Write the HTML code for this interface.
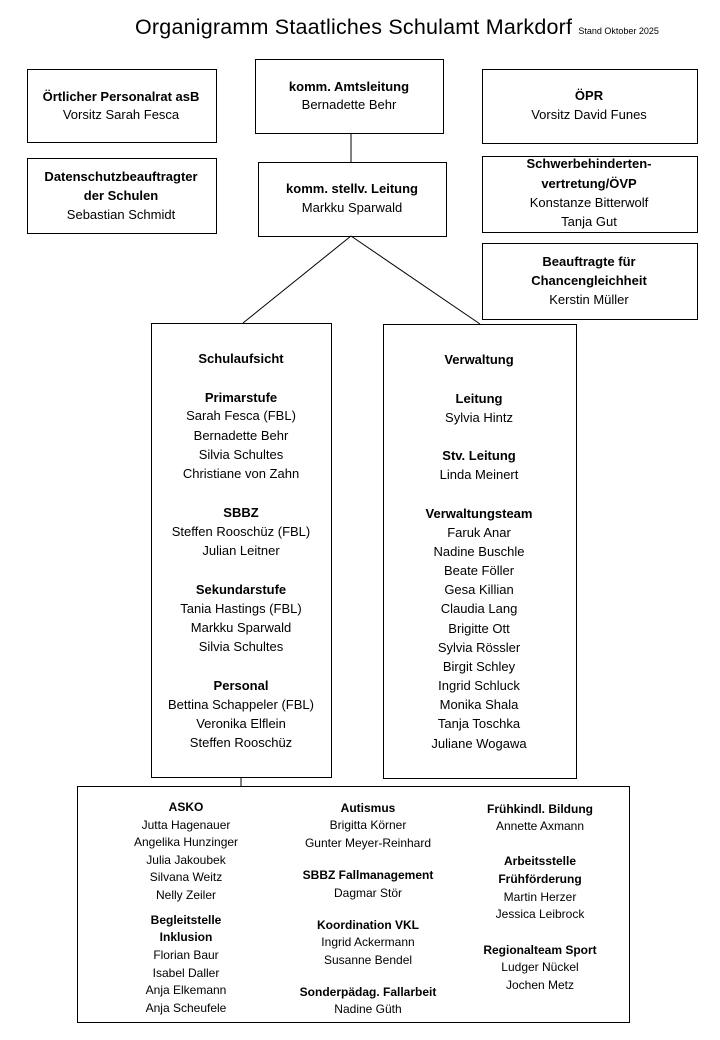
<!DOCTYPE html>
<html><head><meta charset="utf-8"><style>
body{margin:0;width:720px;height:1040px;background:#fff;position:relative;overflow:hidden;font-family:"Liberation Sans",sans-serif;color:#000}
.b{position:absolute;border:1px solid #000;box-sizing:border-box}
.t{position:absolute;white-space:nowrap;transform:translateX(-50%);font-size:13px;line-height:18px;height:18px}
.s{font-size:12px}
.bd{font-weight:bold}
svg{position:absolute;left:0;top:0}
</style></head><body>
<svg width="720" height="1040"><g stroke="#000" stroke-width="1">
<line x1="351" y1="133" x2="351" y2="162"/>
<line x1="351" y1="236" x2="243" y2="323"/>
<line x1="351" y1="236" x2="480" y2="324"/>
<line x1="241" y1="777" x2="241" y2="786"/>
</g></svg>
<div style="position:absolute;left:135px;top:15px;font-size:21.5px;white-space:nowrap;letter-spacing:0.2px">Organigramm Staatliches Schulamt Markdorf <span style="font-size:9px;letter-spacing:0">Stand Oktober 2025</span></div>

<div class="b" style="left:27px;top:69px;width:190px;height:74px"></div>
<div class="b" style="left:255px;top:59px;width:189px;height:75px"></div>
<div class="b" style="left:482px;top:69px;width:216px;height:75px"></div>
<div class="b" style="left:27px;top:158px;width:190px;height:76px"></div>
<div class="b" style="left:258px;top:162px;width:189px;height:75px"></div>
<div class="b" style="left:482px;top:156px;width:216px;height:77px"></div>
<div class="b" style="left:482px;top:243px;width:216px;height:77px"></div>
<div class="b" style="left:151px;top:323px;width:181px;height:455px"></div>
<div class="b" style="left:383px;top:324px;width:194px;height:455px"></div>
<div class="b" style="left:77px;top:786px;width:553px;height:237px"></div>

<div class="t bd" style="left:121px;top:88px">Örtlicher Personalrat asB</div>
<div class="t" style="left:121px;top:106px">Vorsitz Sarah Fesca</div>
<div class="t bd" style="left:349px;top:78px">komm. Amtsleitung</div>
<div class="t" style="left:349px;top:96px">Bernadette Behr</div>
<div class="t bd" style="left:589px;top:87px">ÖPR</div>
<div class="t" style="left:589px;top:106px">Vorsitz David Funes</div>
<div class="t bd" style="left:121px;top:168px">Datenschutzbeauftragter</div>
<div class="t bd" style="left:121px;top:187px">der Schulen</div>
<div class="t" style="left:121px;top:206px">Sebastian Schmidt</div>
<div class="t bd" style="left:352px;top:180px">komm. stellv. Leitung</div>
<div class="t" style="left:352px;top:199px">Markku Sparwald</div>
<div class="t bd" style="left:589px;top:155px">Schwerbehinderten-</div>
<div class="t bd" style="left:589px;top:175px">vertretung/ÖVP</div>
<div class="t" style="left:589px;top:194px">Konstanze Bitterwolf</div>
<div class="t" style="left:589px;top:213px">Tanja Gut</div>
<div class="t bd" style="left:589px;top:253px">Beauftragte für</div>
<div class="t bd" style="left:589px;top:272px">Chancengleichheit</div>
<div class="t" style="left:589px;top:291px">Kerstin Müller</div>

<div class="t bd" style="left:241px;top:350px">Schulaufsicht</div>
<div class="t bd" style="left:241px;top:389px">Primarstufe</div>
<div class="t" style="left:241px;top:407px">Sarah Fesca (FBL)</div>
<div class="t" style="left:241px;top:427px">Bernadette Behr</div>
<div class="t" style="left:241px;top:446px">Silvia Schultes</div>
<div class="t" style="left:241px;top:465px">Christiane von Zahn</div>
<div class="t bd" style="left:241px;top:504px">SBBZ</div>
<div class="t" style="left:241px;top:523px">Steffen Rooschüz (FBL)</div>
<div class="t" style="left:241px;top:542px">Julian Leitner</div>
<div class="t bd" style="left:241px;top:581px">Sekundarstufe</div>
<div class="t" style="left:241px;top:600px">Tania Hastings (FBL)</div>
<div class="t" style="left:241px;top:619px">Markku Sparwald</div>
<div class="t" style="left:241px;top:638px">Silvia Schultes</div>
<div class="t bd" style="left:241px;top:677px">Personal</div>
<div class="t" style="left:241px;top:696px">Bettina Schappeler (FBL)</div>
<div class="t" style="left:241px;top:715px">Veronika Elflein</div>
<div class="t" style="left:241px;top:734px">Steffen Rooschüz</div>

<div class="t bd" style="left:479px;top:351px">Verwaltung</div>
<div class="t bd" style="left:479px;top:390px">Leitung</div>
<div class="t" style="left:479px;top:409px">Sylvia Hintz</div>
<div class="t bd" style="left:479px;top:447px">Stv. Leitung</div>
<div class="t" style="left:479px;top:466px">Linda Meinert</div>
<div class="t bd" style="left:479px;top:505px">Verwaltungsteam</div>
<div class="t" style="left:479px;top:524px">Faruk Anar</div>
<div class="t" style="left:479px;top:543px">Nadine Buschle</div>
<div class="t" style="left:479px;top:562px">Beate Föller</div>
<div class="t" style="left:479px;top:581px">Gesa Killian</div>
<div class="t" style="left:479px;top:600px">Claudia Lang</div>
<div class="t" style="left:479px;top:620px">Brigitte Ott</div>
<div class="t" style="left:479px;top:639px">Sylvia Rössler</div>
<div class="t" style="left:479px;top:658px">Birgit Schley</div>
<div class="t" style="left:479px;top:677px">Ingrid Schluck</div>
<div class="t" style="left:479px;top:696px">Monika Shala</div>
<div class="t" style="left:479px;top:715px">Tanja Toschka</div>
<div class="t" style="left:479px;top:735px">Juliane Wogawa</div>

<div class="t s bd" style="left:186px;top:798px">ASKO</div>
<div class="t s" style="left:186px;top:816px">Jutta Hagenauer</div>
<div class="t s" style="left:186px;top:833px">Angelika Hunzinger</div>
<div class="t s" style="left:186px;top:851px">Julia Jakoubek</div>
<div class="t s" style="left:186px;top:868px">Silvana Weitz</div>
<div class="t s" style="left:186px;top:886px">Nelly Zeiler</div>
<div class="t s bd" style="left:186px;top:911px">Begleitstelle</div>
<div class="t s bd" style="left:186px;top:928px">Inklusion</div>
<div class="t s" style="left:186px;top:946px">Florian Baur</div>
<div class="t s" style="left:186px;top:964px">Isabel Daller</div>
<div class="t s" style="left:186px;top:981px">Anja Elkemann</div>
<div class="t s" style="left:186px;top:999px">Anja Scheufele</div>

<div class="t s bd" style="left:368px;top:799px">Autismus</div>
<div class="t s" style="left:368px;top:816px">Brigitta Körner</div>
<div class="t s" style="left:368px;top:834px">Gunter Meyer-Reinhard</div>
<div class="t s bd" style="left:368px;top:866px">SBBZ Fallmanagement</div>
<div class="t s" style="left:368px;top:884px">Dagmar Stör</div>
<div class="t s bd" style="left:368px;top:916px">Koordination VKL</div>
<div class="t s" style="left:368px;top:933px">Ingrid Ackermann</div>
<div class="t s" style="left:368px;top:951px">Susanne Bendel</div>
<div class="t s bd" style="left:368px;top:983px">Sonderpädag. Fallarbeit</div>
<div class="t s" style="left:368px;top:1000px">Nadine Güth</div>

<div class="t s bd" style="left:540px;top:800px">Frühkindl. Bildung</div>
<div class="t s" style="left:540px;top:817px">Annette Axmann</div>
<div class="t s bd" style="left:540px;top:852px">Arbeitsstelle</div>
<div class="t s bd" style="left:540px;top:870px">Frühförderung</div>
<div class="t s" style="left:540px;top:888px">Martin Herzer</div>
<div class="t s" style="left:540px;top:905px">Jessica Leibrock</div>
<div class="t s bd" style="left:540px;top:941px">Regionalteam Sport</div>
<div class="t s" style="left:540px;top:958px">Ludger Nückel</div>
<div class="t s" style="left:540px;top:976px">Jochen Metz</div>
</body></html>
